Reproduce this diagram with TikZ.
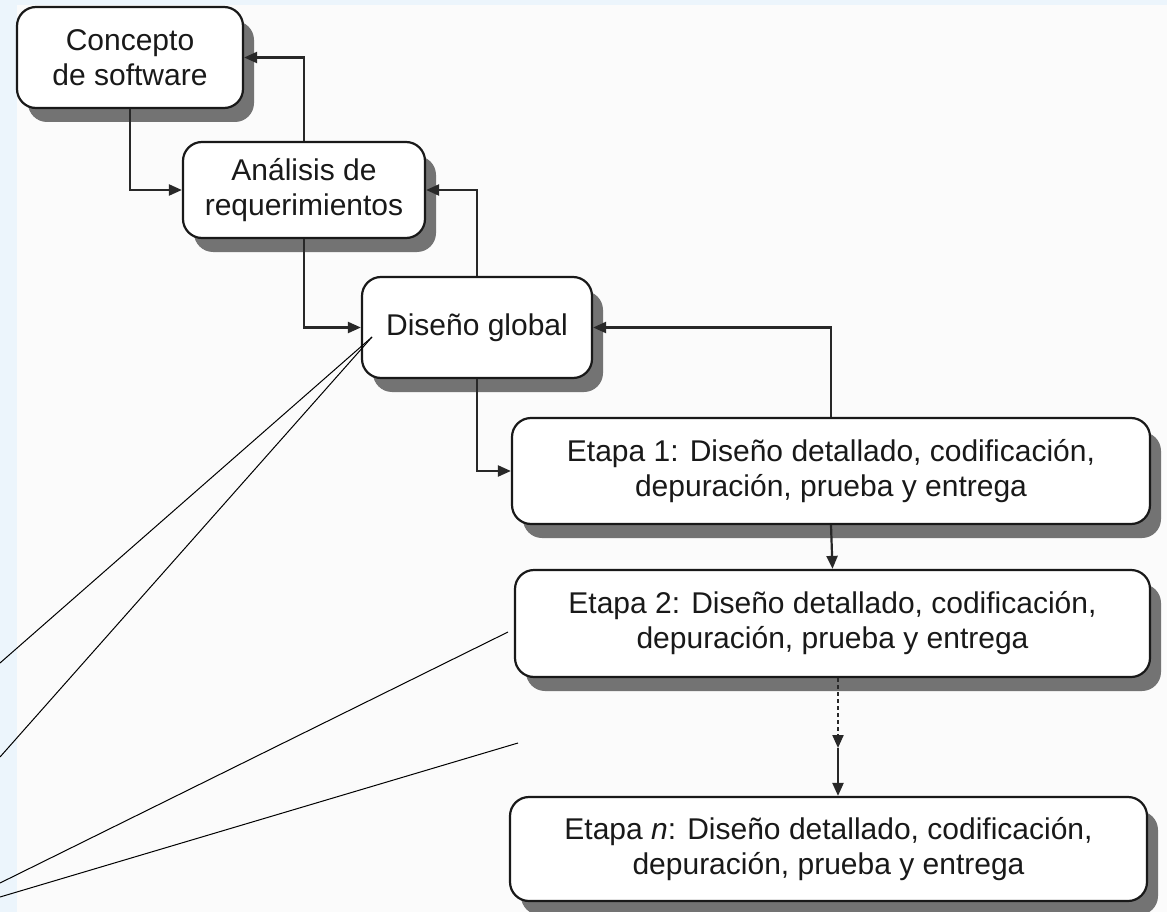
\documentclass[tikz,border=0pt]{standalone}
\usepackage{fontspec}
\setmainfont{Liberation Sans}
\usetikzlibrary{arrows.meta,shadows}
\definecolor{bg}{RGB}{251,251,251}
\definecolor{edgeblue}{RGB}{236,245,252}
\definecolor{shadowgray}{RGB}{115,115,115}
\definecolor{linegray}{RGB}{40,40,40}
\tikzset{
  box/.style={draw=black!90, line width=2.2pt, rounded corners=19pt, fill=white,
    align=center, inner sep=0pt, font=\fontsize{30}{35}\selectfont, text=black!90,
    drop shadow={shadow xshift=11pt, shadow yshift=-14pt, fill=shadowgray, opacity=1}},
  conn/.style={draw=linegray, line width=2.2pt, -{Triangle[length=13pt,width=11pt]}},
  callout/.style={draw=black, line width=1pt}
}
\begin{document}
\begin{tikzpicture}[x=1pt,y=-1pt]
  \useasboundingbox (0,0) rectangle (1167,912);
  \fill[bg] (0,0) rectangle (1167,912);
  \fill[edgeblue] (0,0) rectangle (17,912);
  \fill[edgeblue] (0,0) rectangle (1167,5);

  \node[box, minimum width=226pt, minimum height=101pt] (c1) at (130,57.5) {Concepto\\de software};
  \node[box, minimum width=242pt, minimum height=96pt] (a2) at (304,190) {Análisis de\\requerimientos};
  \node[box, minimum width=230pt, minimum height=101pt] (d3) at (477,327.5) {Diseño global};
  \node[box, minimum width=638pt, minimum height=106pt] (e1) at (831,471) {Etapa 1: Diseño detallado, codificación,\\depuración, prueba y entrega};
  \node[box, minimum width=635pt, minimum height=107pt] (e2) at (832.5,623.5) {Etapa 2: Diseño detallado, codificación,\\depuración, prueba y entrega};
  \node[box, minimum width=637pt, minimum height=104pt] (en) at (828.5,849) {Etapa \textit{n}: Diseño detallado, codificación,\\depuración, prueba y entrega};

  \draw[conn] (c1.south) |- (a2.west);
  \draw[conn] (a2.north) |- (c1.east);
  \draw[conn] (a2.south) |- (d3.west);
  \draw[conn] (d3.north) |- (a2.east);
  \draw[conn] (d3.south) |- (e1.west);
  \draw[conn] (e1.north) |- (d3.east);
  \draw[conn] (e1.south) -- (e2.north);
  \coordinate (m) at (838,748);
  \draw[conn, dash pattern=on 4pt off 3pt] (e2.south -| m) -- (m);
  \draw[conn] (m) -- (en.north -| m);

  \coordinate (t0) at (372,337);
  \coordinate (t3) at (508,632);
  \coordinate (t4) at (518,743);
  \coordinate (L1) at (0,663);
  \coordinate (L2) at (0,757);
  \coordinate (L3) at (0,883);
  \coordinate (L4) at (0,897);
  \draw[callout] (t0) -- (L1);
  \draw[callout] (t0) -- (L2);
  \draw[callout] (t3) -- (L3);
  \draw[callout] (t4) -- (L4);
\end{tikzpicture}
\end{document}
